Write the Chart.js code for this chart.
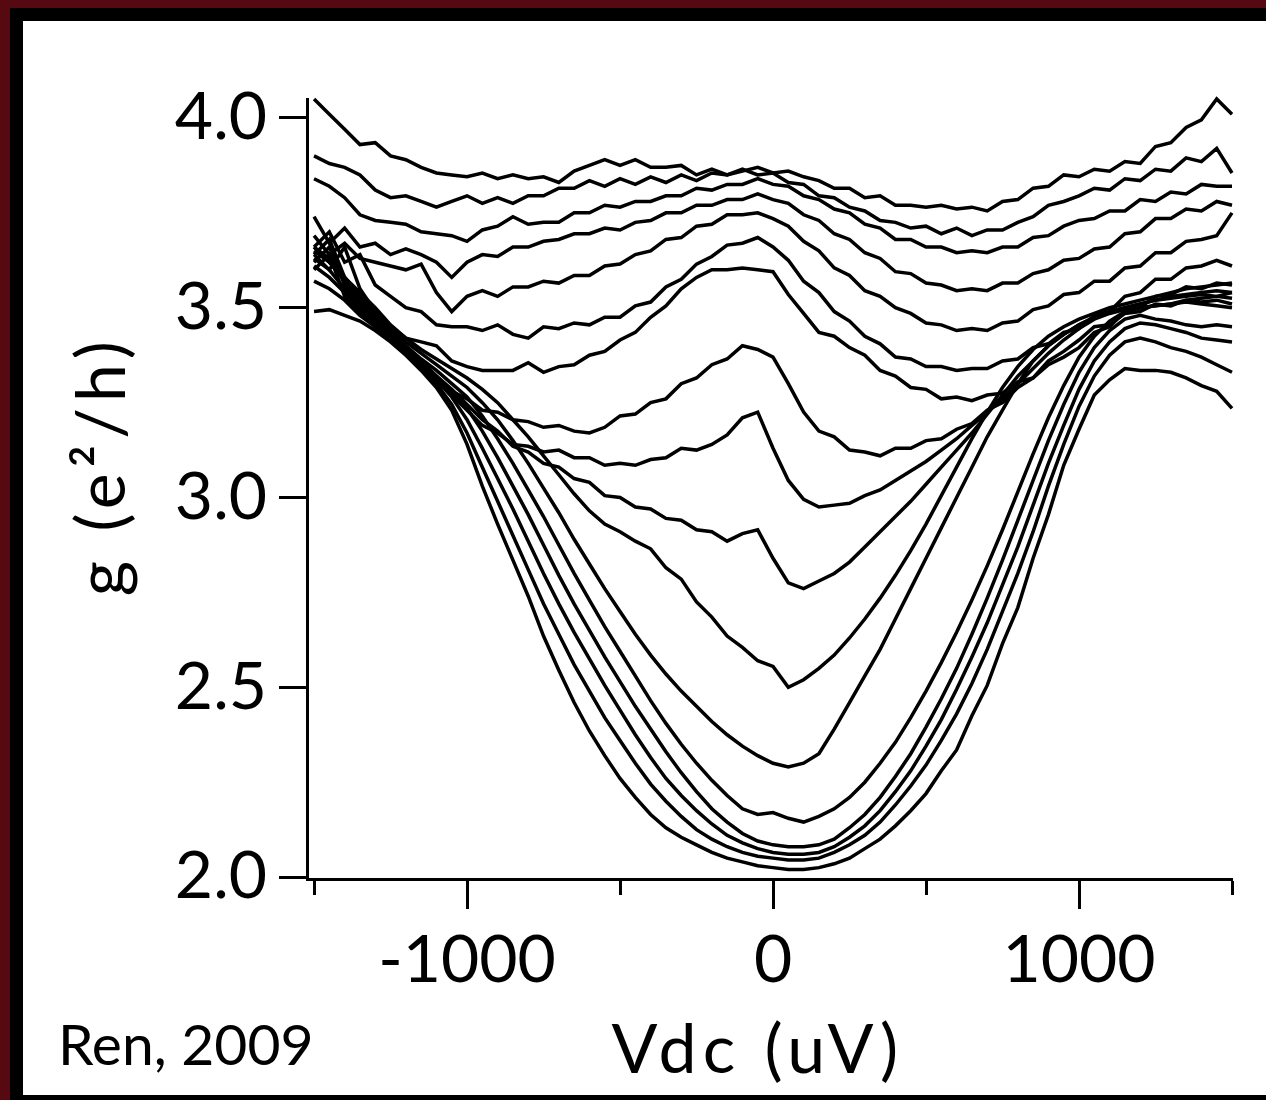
<!DOCTYPE html>
<html>
<head>
<meta charset="utf-8">
<script src="https://cdn.jsdelivr.net/npm/chart.js@4.4.1/dist/chart.umd.min.js"></script>
<style>
  html, body { margin: 0; padding: 0; }
  body { width: 1266px; height: 1100px; position: relative; overflow: hidden; background: #560910; }
  #black { position: absolute; left: 10px; top: 8px; right: 0; bottom: 0; background: #000; }
  #panel { position: absolute; left: 23px; top: 21px; right: 0; bottom: 5px; background: #fff; }
  #chart { position: absolute; left: 0; top: 0; }
  #note { position: absolute; left: 58px; top: 1015px; font-family: Lato, sans-serif; font-size: 57px; line-height: 57px; color: #000; white-space: nowrap; }
</style>
</head>
<body>
<div id="black"></div>
<div id="panel"></div>
<canvas id="chart" width="1266" height="1100"></canvas>
<div id="note">Ren, 2009</div>
<script>
// bias voltage (uV), shared by every trace
const vdc = [
  -1500, -1450, -1400, -1350, -1300, -1250, -1200, -1150, -1100, -1050,
  -1000, -950, -900, -850, -800, -750, -700, -650, -600, -550,
  -500, -450, -400, -350, -300, -250, -200, -150, -100, -50,
  0, 50, 100, 150, 200, 250, 300, 350, 400, 450,
  500, 550, 600, 650, 700, 750, 800, 850, 900, 950,
  1000, 1050, 1100, 1150, 1200, 1250, 1300, 1350, 1400, 1450,
  1500
];

// conductance traces g (e^2/h), top to bottom
const gA = [
  4.05, 4.01, 3.97, 3.93, 3.935, 3.90, 3.89, 3.87, 3.855, 3.85,
  3.845, 3.855, 3.84, 3.85, 3.84, 3.845, 3.83, 3.86, 3.875, 3.89,
  3.875, 3.89, 3.87, 3.87, 3.875, 3.85, 3.865, 3.85, 3.86, 3.87,
  3.855, 3.86, 3.845, 3.835, 3.815, 3.815, 3.79, 3.795, 3.77, 3.77,
  3.765, 3.77, 3.76, 3.765, 3.755, 3.78, 3.785, 3.815, 3.82, 3.85,
  3.845, 3.865, 3.86, 3.885, 3.88, 3.925, 3.935, 3.975, 3.995, 4.05,
  4.01
];
const gB = [
  3.90, 3.88, 3.87, 3.85, 3.81, 3.79, 3.795, 3.78, 3.765, 3.78,
  3.795, 3.775, 3.79, 3.775, 3.795, 3.795, 3.815, 3.815, 3.835, 3.82,
  3.84, 3.825, 3.845, 3.83, 3.85, 3.835, 3.855, 3.85, 3.865, 3.85,
  3.855, 3.83, 3.825, 3.795, 3.79, 3.765, 3.755, 3.73, 3.725, 3.71,
  3.715, 3.695, 3.71, 3.69, 3.705, 3.705, 3.725, 3.74, 3.77, 3.78,
  3.795, 3.815, 3.81, 3.84, 3.835, 3.865, 3.86, 3.895, 3.885, 3.92,
  3.855
];
const gC = [
  3.84, 3.82, 3.79, 3.745, 3.73, 3.725, 3.72, 3.70, 3.695, 3.69,
  3.675, 3.705, 3.715, 3.74, 3.72, 3.725, 3.725, 3.75, 3.75, 3.77,
  3.765, 3.78, 3.78, 3.795, 3.795, 3.815, 3.81, 3.825, 3.825, 3.84,
  3.825, 3.82, 3.795, 3.785, 3.76, 3.75, 3.72, 3.71, 3.68, 3.68,
  3.66, 3.66, 3.645, 3.65, 3.645, 3.66, 3.66, 3.685, 3.69, 3.715,
  3.73, 3.735, 3.755, 3.755, 3.785, 3.78, 3.805, 3.80, 3.825, 3.82,
  3.82
];
const gD = [
  3.74, 3.67, 3.71, 3.66, 3.67, 3.64, 3.655, 3.64, 3.62, 3.58,
  3.62, 3.64, 3.635, 3.66, 3.66, 3.675, 3.68, 3.695, 3.695, 3.71,
  3.705, 3.725, 3.73, 3.75, 3.75, 3.77, 3.77, 3.785, 3.785, 3.80,
  3.785, 3.775, 3.745, 3.73, 3.695, 3.68, 3.645, 3.63, 3.595, 3.59,
  3.565, 3.56, 3.545, 3.55, 3.545, 3.565, 3.565, 3.59, 3.60, 3.625,
  3.63, 3.655, 3.66, 3.695, 3.70, 3.735, 3.735, 3.76, 3.755, 3.78,
  3.77
];
const gE = [
  3.69, 3.64, 3.67, 3.63, 3.62, 3.61, 3.60, 3.615, 3.54, 3.49,
  3.53, 3.545, 3.53, 3.555, 3.555, 3.57, 3.565, 3.585, 3.585, 3.61,
  3.615, 3.64, 3.65, 3.68, 3.685, 3.715, 3.72, 3.745, 3.745, 3.75,
  3.735, 3.715, 3.675, 3.65, 3.605, 3.585, 3.545, 3.53, 3.50, 3.485,
  3.46, 3.455, 3.44, 3.445, 3.44, 3.46, 3.465, 3.495, 3.505, 3.535,
  3.54, 3.57, 3.57, 3.605, 3.61, 3.645, 3.645, 3.675, 3.68, 3.69,
  3.75
];
const gF = [
  3.66, 3.70, 3.62, 3.64, 3.56, 3.53, 3.50, 3.49, 3.455, 3.45,
  3.45, 3.44, 3.455, 3.43, 3.42, 3.45, 3.445, 3.46, 3.455, 3.475,
  3.475, 3.505, 3.515, 3.555, 3.575, 3.615, 3.635, 3.665, 3.67, 3.685,
  3.66, 3.625, 3.57, 3.54, 3.49, 3.465, 3.425, 3.405, 3.37, 3.365,
  3.345, 3.345, 3.335, 3.34, 3.34, 3.36, 3.365, 3.395, 3.405, 3.435,
  3.445, 3.48, 3.49, 3.53, 3.54, 3.575, 3.575, 3.605, 3.61, 3.625,
  3.61
];
const gG = [
  3.63, 3.60, 3.66, 3.55, 3.49, 3.45, 3.42, 3.41, 3.40, 3.36,
  3.345, 3.335, 3.335, 3.335, 3.355, 3.33, 3.345, 3.35, 3.375, 3.385,
  3.415, 3.435, 3.475, 3.505, 3.55, 3.58, 3.60, 3.60, 3.605, 3.60,
  3.595, 3.535, 3.485, 3.435, 3.425, 3.395, 3.375, 3.335, 3.32, 3.29,
  3.285, 3.26, 3.265, 3.255, 3.27, 3.275, 3.305, 3.315, 3.35, 3.37,
  3.395, 3.435, 3.45, 3.49, 3.50, 3.53, 3.535, 3.555, 3.55, 3.565,
  3.56
];
const gH = [
  3.62, 3.66, 3.56, 3.51, 3.47, 3.43, 3.39, 3.345, 3.31, 3.28,
  3.26, 3.23, 3.225, 3.205, 3.20, 3.185, 3.19, 3.175, 3.17, 3.185,
  3.215, 3.22, 3.25, 3.26, 3.30, 3.315, 3.35, 3.365, 3.40, 3.39,
  3.37, 3.30, 3.225, 3.175, 3.16, 3.125, 3.12, 3.11, 3.13, 3.13,
  3.15, 3.155, 3.18, 3.195, 3.23, 3.25, 3.29, 3.315, 3.36, 3.385,
  3.415, 3.45, 3.455, 3.485, 3.49, 3.51, 3.505, 3.52, 3.515, 3.52,
  3.51
];
const gI = [
  3.61, 3.58, 3.54, 3.50, 3.46, 3.42, 3.39, 3.35, 3.31, 3.27,
  3.23, 3.19, 3.17, 3.14, 3.135, 3.12, 3.125, 3.105, 3.105, 3.085,
  3.09, 3.085, 3.10, 3.105, 3.13, 3.125, 3.14, 3.165, 3.21, 3.225,
  3.13, 3.045, 2.995, 2.975, 2.98, 2.985, 3.005, 3.02, 3.045, 3.07,
  3.095, 3.125, 3.155, 3.19, 3.225, 3.26, 3.30, 3.34, 3.38, 3.415,
  3.445, 3.47, 3.485, 3.495, 3.50, 3.505, 3.51, 3.52, 3.525, 3.53,
  3.54
];
const gJ = [
  3.60, 3.64, 3.53, 3.49, 3.45, 3.42, 3.395, 3.36, 3.32, 3.285,
  3.245, 3.205, 3.175, 3.135, 3.12, 3.09, 3.08, 3.05, 3.04, 3.005,
  3.00, 2.975, 2.97, 2.945, 2.94, 2.915, 2.91, 2.885, 2.905, 2.915,
  2.84, 2.775, 2.76, 2.78, 2.80, 2.83, 2.87, 2.91, 2.95, 2.99,
  3.035, 3.08, 3.125, 3.17, 3.22, 3.27, 3.32, 3.36, 3.40, 3.43,
  3.455, 3.475, 3.49, 3.50, 3.51, 3.52, 3.525, 3.53, 3.535, 3.53,
  3.525
];
const gV7 = [
  3.66, 3.63, 3.58, 3.54, 3.50, 3.455, 3.42, 3.39, 3.365, 3.34,
  3.315, 3.285, 3.25, 3.205, 3.16, 3.11, 3.06, 3.01, 2.965, 2.93,
  2.91, 2.885, 2.865, 2.815, 2.785, 2.725, 2.685, 2.635, 2.605, 2.57,
  2.555, 2.50, 2.52, 2.55, 2.585, 2.63, 2.68, 2.735, 2.795, 2.86,
  2.93, 3.005, 3.08, 3.155, 3.225, 3.29, 3.345, 3.39, 3.425, 3.45,
  3.47, 3.485, 3.50, 3.51, 3.52, 3.53, 3.54, 3.55, 3.555, 3.56,
  3.565
];
const gV6 = [
  3.65, 3.62, 3.58, 3.53, 3.485, 3.445, 3.41, 3.38, 3.35, 3.32,
  3.29, 3.25, 3.205, 3.15, 3.09, 3.025, 2.96, 2.89, 2.825, 2.76,
  2.70, 2.64, 2.585, 2.535, 2.49, 2.45, 2.41, 2.375, 2.345, 2.32,
  2.30, 2.29, 2.30, 2.325, 2.39, 2.46, 2.53, 2.60, 2.68, 2.76,
  2.84, 2.92, 3.00, 3.08, 3.16, 3.23, 3.30, 3.36, 3.40, 3.43,
  3.455, 3.475, 3.49, 3.50, 3.51, 3.52, 3.53, 3.535, 3.54, 3.545,
  3.54
];
const gV5 = [
  3.64, 3.68, 3.58, 3.53, 3.48, 3.44, 3.40, 3.365, 3.335, 3.30,
  3.265, 3.215, 3.155, 3.09, 3.02, 2.95, 2.875, 2.80, 2.73, 2.66,
  2.595, 2.53, 2.465, 2.405, 2.35, 2.30, 2.255, 2.215, 2.18, 2.165,
  2.17, 2.155, 2.145, 2.16, 2.18, 2.21, 2.25, 2.30, 2.355, 2.42,
  2.49, 2.565, 2.645, 2.73, 2.82, 2.915, 3.015, 3.115, 3.21, 3.295,
  3.37, 3.425, 3.465, 3.49, 3.50, 3.505, 3.51, 3.515, 3.51, 3.505,
  3.50
];
const gV4 = [
  3.66, 3.62, 3.57, 3.52, 3.47, 3.43, 3.39, 3.355, 3.32, 3.28,
  3.235, 3.175, 3.105, 3.03, 2.955, 2.875, 2.795, 2.72, 2.65, 2.58,
  2.515, 2.45, 2.39, 2.33, 2.275, 2.225, 2.18, 2.145, 2.115, 2.095,
  2.085, 2.08, 2.08, 2.085, 2.10, 2.13, 2.165, 2.21, 2.265, 2.325,
  2.395, 2.47, 2.55, 2.64, 2.735, 2.835, 2.94, 3.045, 3.15, 3.245,
  3.33, 3.395, 3.44, 3.47, 3.48, 3.47, 3.465, 3.455, 3.45, 3.455,
  3.45
];
const gV3 = [
  3.64, 3.60, 3.55, 3.50, 3.455, 3.42, 3.385, 3.35, 3.31, 3.265,
  3.205, 3.13, 3.05, 2.97, 2.885, 2.80, 2.72, 2.645, 2.575, 2.505,
  2.44, 2.375, 2.315, 2.26, 2.215, 2.175, 2.14, 2.11, 2.09, 2.075,
  2.065, 2.06, 2.06, 2.065, 2.08, 2.105, 2.135, 2.175, 2.225, 2.28,
  2.345, 2.415, 2.495, 2.58, 2.67, 2.77, 2.87, 2.98, 3.09, 3.19,
  3.285, 3.36, 3.41, 3.445, 3.46, 3.455, 3.445, 3.435, 3.42, 3.415,
  3.41
];
const gV2 = [
  3.57, 3.55, 3.52, 3.48, 3.45, 3.415, 3.38, 3.34, 3.30, 3.245,
  3.17, 3.08, 2.99, 2.90, 2.81, 2.72, 2.64, 2.56, 2.49, 2.42,
  2.36, 2.30, 2.245, 2.20, 2.16, 2.125, 2.10, 2.08, 2.065, 2.055,
  2.05, 2.045, 2.045, 2.05, 2.065, 2.085, 2.11, 2.145, 2.19, 2.24,
  2.295, 2.36, 2.43, 2.51, 2.60, 2.70, 2.80, 2.91, 3.03, 3.14,
  3.24, 3.32, 3.375, 3.41, 3.42, 3.41, 3.395, 3.385, 3.37, 3.35,
  3.33
];
const gV1 = [
  3.49, 3.495, 3.48, 3.465, 3.44, 3.41, 3.375, 3.335, 3.29, 3.23,
  3.14, 3.03, 2.93, 2.835, 2.74, 2.635, 2.545, 2.46, 2.385, 2.32,
  2.26, 2.21, 2.165, 2.13, 2.105, 2.085, 2.065, 2.05, 2.04, 2.03,
  2.025, 2.02, 2.02, 2.025, 2.035, 2.05, 2.075, 2.10, 2.135, 2.175,
  2.22, 2.28, 2.335, 2.425, 2.505, 2.615, 2.71, 2.84, 2.955, 3.085,
  3.18, 3.27, 3.31, 3.34, 3.335, 3.335, 3.33, 3.315, 3.295, 3.28,
  3.235
];

const traces = [gA, gB, gC, gD, gE, gF, gG, gH, gI, gJ, gV7, gV6, gV5, gV4, gV3, gV2, gV1];

const xTicks = [-1500, -1000, -500, 0, 500, 1000, 1500];
const xLabelled = [-1000, 0, 1000];
const yTicks = [2.0, 2.5, 3.0, 3.5, 4.0];

const font = 'Lato';

// axis titles are tracked a little wider than the tick numbers
const tracking = {
  id: 'tracking',
  beforeDraw(chart) { chart.ctx.letterSpacing = '6px'; },
  afterDatasetsDraw(chart) { chart.ctx.letterSpacing = '0px'; }
};

new Chart(document.getElementById('chart'), {
  type: 'line',
  data: {
    datasets: traces.map(g => ({
      data: g.map((v, i) => ({ x: vdc[i], y: v })),
      borderColor: '#000',
      borderWidth: 3.5,
      pointRadius: 0,
      fill: false,
      tension: 0,
      clip: 4
    }))
  },
  options: {
    responsive: false,
    animation: false,
    layout: { padding: { left: 0, top: 99, right: 34, bottom: 0 } },
    plugins: {
      legend: { display: false },
      tooltip: { enabled: false }
    },
    scales: {
      x: {
        type: 'linear',
        min: -1523,
        max: 1500,
        afterFit: s => { s.height = 221; },
        afterBuildTicks: s => { s.ticks = xTicks.map(v => ({ value: v })); },
        border: { display: true, color: '#000', width: 3 },
        grid: {
          drawOnChartArea: false,
          tickLength: 30,
          tickWidth: 3,
          tickColor: '#000',
          // short minor ticks at the odd 500s
          tickBorderDash: ctx => (ctx.tick && ctx.tick.value % 1000 === 0) ? [] : [14, 60]
        },
        ticks: {
          z: 1,
          color: '#000',
          font: { family: font, size: 66 },
          padding: 12,
          maxRotation: 0,
          autoSkip: false,
          callback: v => xLabelled.includes(v) ? String(v) : ''
        },
        title: {
          display: true,
          text: 'Vdc (uV) ',
          color: '#000',
          font: { family: font, size: 68 },
          padding: { top: 0, bottom: 8 }
        }
      },
      y: {
        min: 1.995,
        max: 4.05,
        afterFit: s => { s.width = 307; },
        afterBuildTicks: s => { s.ticks = yTicks.map(v => ({ value: v })); },
        border: { display: true, color: '#000', width: 3 },
        grid: {
          drawOnChartArea: false,
          tickLength: 28,
          tickWidth: 3,
          tickColor: '#000'
        },
        ticks: {
          z: 1,
          color: '#000',
          font: { family: font, size: 66 },
          padding: 12,
          callback: v => v.toFixed(1)
        },
        title: {
          display: true,
          text: '  g (e²/h)',
          color: '#000',
          font: { family: font, size: 68 },
          padding: { top: 62, bottom: 0 }
        }
      }
    }
  },
  plugins: [tracking]
});
</script>
</body>
</html>
